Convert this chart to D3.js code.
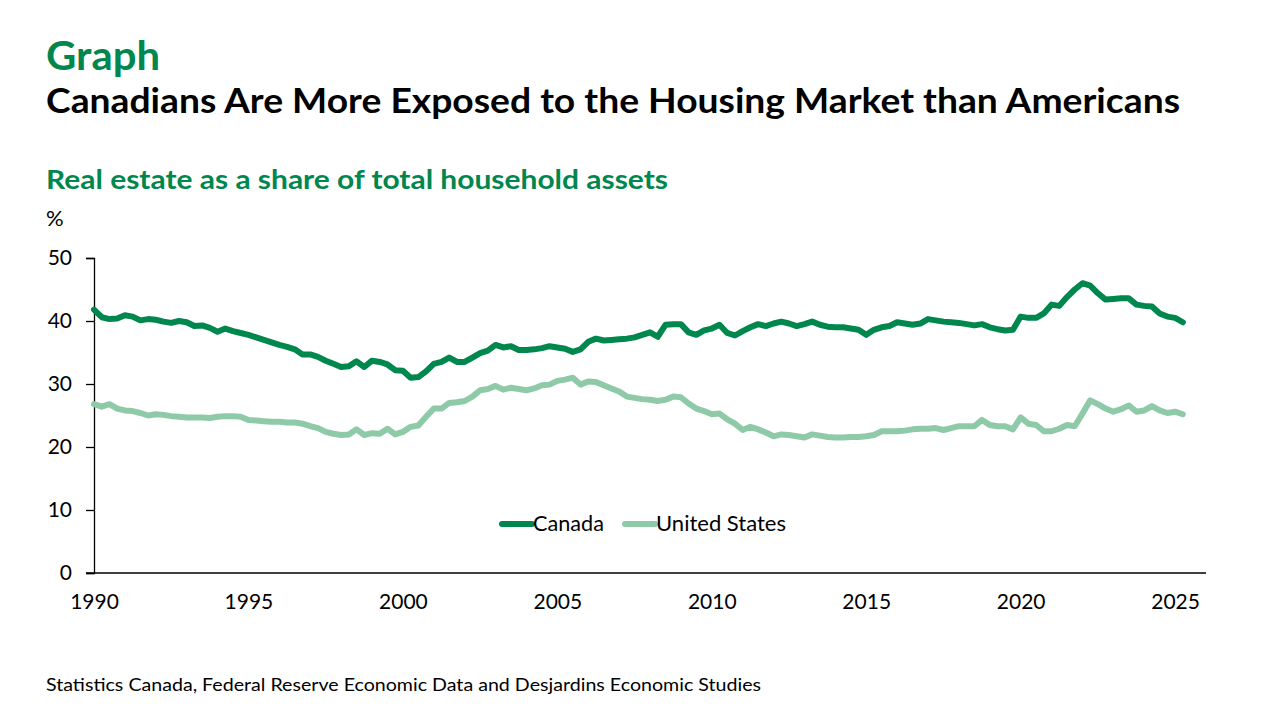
<!DOCTYPE html>
<meta charset="utf-8">
<script src="https://d3js.org/d3.v7.min.js"></script>
<style>
  body { margin: 0; background: #fff; }
  text { font-family: Lato, "Open Sans", sans-serif; }
</style>
<div id="chart"></div>
<script>
// quarterly values, 1990 Q1 to 2025 Q2 (one row per year)
const canada = [
  41.8, 40.6, 40.3, 40.4,
  40.9, 40.7, 40.1, 40.3,
  40.2, 39.9, 39.7, 40.0,
  39.8, 39.2, 39.3, 38.9,
  38.3, 38.8, 38.4, 38.1,
  37.8, 37.4, 37.0, 36.6,
  36.2, 35.9, 35.5, 34.7,
  34.7, 34.3, 33.7, 33.2,
  32.7, 32.8, 33.6, 32.7,
  33.7, 33.5, 33.1, 32.2,
  32.1, 31.0, 31.1, 32.0,
  33.2, 33.5, 34.2, 33.5,
  33.5, 34.2, 34.9, 35.3,
  36.2, 35.8, 36.0, 35.4,
  35.4, 35.5, 35.7, 36.0,
  35.8, 35.6, 35.1, 35.5,
  36.7, 37.2, 36.9, 37.0,
  37.1, 37.2, 37.4, 37.8,
  38.2, 37.5, 39.4, 39.5,
  39.5, 38.2, 37.8, 38.5,
  38.8, 39.4, 38.1, 37.7,
  38.4, 39.0, 39.5, 39.2,
  39.6, 39.9, 39.6, 39.2,
  39.5, 39.9, 39.4, 39.1,
  39.0, 39.0, 38.8, 38.6,
  37.8, 38.6, 39.0, 39.2,
  39.8, 39.6, 39.4, 39.6,
  40.3, 40.1, 39.9, 39.8,
  39.7, 39.5, 39.3, 39.5,
  39.0, 38.7, 38.5, 38.6,
  40.7, 40.5, 40.5, 41.2,
  42.6, 42.4, 43.8, 45.0,
  46.0, 45.6, 44.4, 43.4,
  43.5, 43.6, 43.6, 42.6,
  42.4, 42.3, 41.2, 40.7,
  40.5, 39.8
];
const unitedStates = [
  26.8, 26.4, 26.8, 26.1,
  25.8, 25.7, 25.4, 25.0,
  25.2, 25.1, 24.9, 24.8,
  24.7, 24.7, 24.7, 24.6,
  24.8, 24.9, 24.9, 24.8,
  24.3, 24.2, 24.1, 24.0,
  24.0, 23.9, 23.9, 23.7,
  23.3, 23.0, 22.4, 22.1,
  21.9, 22.0, 22.8, 21.9,
  22.2, 22.1, 22.9, 22.0,
  22.4, 23.2, 23.4, 24.8,
  26.1, 26.1, 27.0, 27.1,
  27.3, 28.0, 29.0, 29.2,
  29.7, 29.1, 29.4, 29.2,
  29.0, 29.3, 29.8, 29.9,
  30.5, 30.7, 31.0, 29.9,
  30.4, 30.3, 29.8, 29.3,
  28.8, 28.0, 27.8, 27.6,
  27.5, 27.3, 27.5, 28.0,
  27.9, 26.9, 26.1, 25.7,
  25.2, 25.3, 24.4, 23.7,
  22.7, 23.2, 22.8, 22.3,
  21.7, 22.0, 21.9, 21.7,
  21.5, 22.0, 21.8, 21.6,
  21.5, 21.5, 21.6, 21.6,
  21.7, 21.9, 22.5, 22.5,
  22.5, 22.6, 22.8, 22.9,
  22.9, 23.0, 22.7, 23.0,
  23.3, 23.3, 23.3, 24.3,
  23.5, 23.3, 23.3, 22.8,
  24.7, 23.7, 23.5, 22.5,
  22.5, 22.9, 23.5, 23.3,
  25.3, 27.4, 26.8, 26.1,
  25.6, 26.0, 26.6, 25.6,
  25.8, 26.5, 25.8, 25.4,
  25.6, 25.2
];
const yearTicks = [1990, 1995, 2000, 2005, 2010, 2015, 2020, 2025];
const valueTicks = [0, 10, 20, 30, 40, 50];
const seriesNames = ["Canada", "United States"];
const seriesColors = ["#00874E", "#8FCAA8"];

const W = 1280, H = 720;
const svg = d3.select("#chart").append("svg")
  .attr("width", W).attr("height", H);

// titles
svg.append("text").attr("x", 46).attr("y", 70)
  .attr("font-size", 41).attr("font-weight", "bold").attr("fill", "#00874E")
  .attr("textLength", 114).attr("lengthAdjust", "spacingAndGlyphs")
  .text("Graph");
svg.append("text").attr("x", 46).attr("y", 113)
  .attr("font-size", 35).attr("font-weight", "bold").attr("fill", "#000")
  .attr("textLength", 1134).attr("lengthAdjust", "spacingAndGlyphs")
  .text("Canadians Are More Exposed to the Housing Market than Americans");
svg.append("text").attr("x", 46).attr("y", 189)
  .attr("font-size", 27).attr("font-weight", "bold").attr("fill", "#00874E")
  .attr("textLength", 622).attr("lengthAdjust", "spacingAndGlyphs")
  .text("Real estate as a share of total household assets");
svg.append("text").attr("x", 46).attr("y", 226)
  .attr("font-size", 22).attr("fill", "#000")
  .text("%");

// scales
const x = d3.scaleLinear().domain([1990, 2026]).range([94, 1206]);
const y = d3.scaleLinear().domain([0, 50]).range([573, 258]);

// y axis
const yAxis = svg.append("g")
  .attr("transform", "translate(94,0)")
  .call(d3.axisLeft(y).tickValues(valueTicks).tickSize(8).tickPadding(14));
yAxis.select(".domain").attr("stroke", "#000").attr("stroke-width", 1.3);
yAxis.selectAll(".tick line").attr("stroke", "#000").attr("stroke-width", 1.3);
yAxis.selectAll("text").attr("font-size", 21).attr("fill", "#000")
  .style("font-family", "Lato, 'Open Sans', sans-serif");

// x axis
const xAxis = svg.append("g")
  .attr("transform", "translate(0,573)")
  .call(d3.axisBottom(x).tickValues(yearTicks).tickFormat(d3.format("d")).tickSize(0).tickPadding(21));
xAxis.select(".domain").attr("d", "M86,0H1206").attr("stroke", "#000").attr("stroke-width", 1.3);
xAxis.selectAll("text").attr("font-size", 21).attr("fill", "#000")
  .style("font-family", "Lato, 'Open Sans', sans-serif");

// lines
const line = d3.line()
  .x((d, i) => x(1990 + i / 4))
  .y(d => y(d));

[unitedStates, canada].forEach((vals, k) => {
  const c = k === 0 ? seriesColors[1] : seriesColors[0];
  svg.append("path")
    .datum(vals)
    .attr("fill", "none")
    .attr("stroke", c)
    .attr("stroke-width", 6)
    .attr("stroke-linejoin", "round")
    .attr("stroke-linecap", "round")
    .attr("d", line);
});

// legend
const legend = svg.append("g").attr("transform", "translate(0,524)");
const legX = [502, 625];
const legW = [71, 130];
seriesNames.forEach((name, i) => {
  legend.append("line")
    .attr("x1", legX[i]).attr("x2", legX[i] + 30)
    .attr("y1", 0).attr("y2", 0)
    .attr("stroke", seriesColors[i]).attr("stroke-width", 6)
    .attr("stroke-linecap", "round");
  legend.append("text")
    .attr("x", legX[i] + 31).attr("y", 7)
    .attr("font-size", 22).attr("fill", "#000")
    .attr("textLength", legW[i]).attr("lengthAdjust", "spacingAndGlyphs")
    .text(name);
});

// source
svg.append("text").attr("x", 46).attr("y", 691)
  .attr("font-size", 17).attr("fill", "#000")
  .attr("textLength", 715).attr("lengthAdjust", "spacingAndGlyphs")
  .text("Statistics Canada, Federal Reserve Economic Data and Desjardins Economic Studies");
</script>
